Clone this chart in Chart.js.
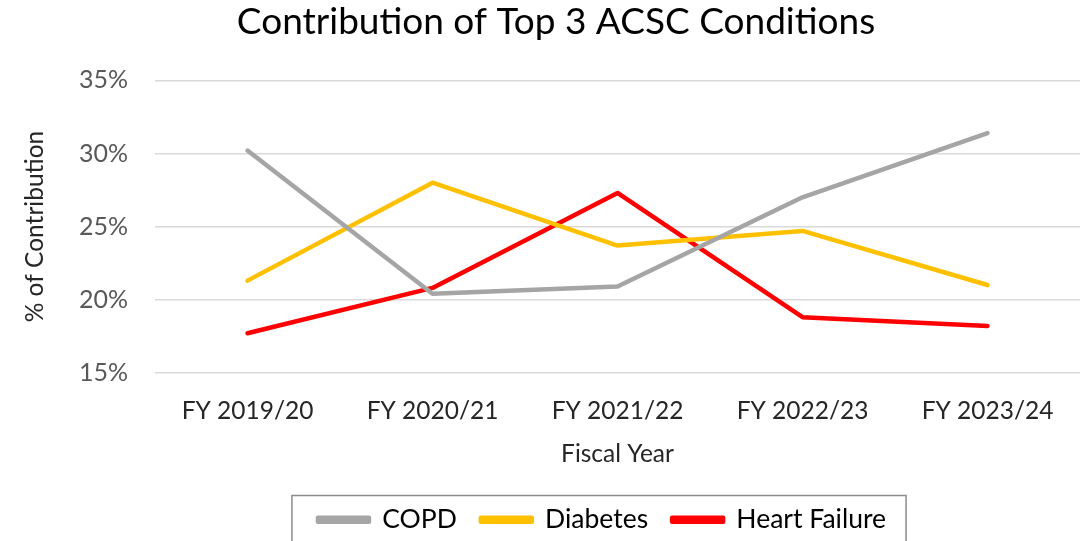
<!DOCTYPE html>
<html>
<head>
    <title>Contribution of Top 3 ACSC Conditions</title>
    <script src="https://cdn.jsdelivr.net/npm/chart.js"></script>
    <style>
        body { margin: 0; background: #fff; }
    </style>
</head>
<body>
<canvas id="acscChart" width="1084" height="541"></canvas>

<script>
    // data
    const fiscalYears = ['FY 2019/20', 'FY 2020/21', 'FY 2021/22', 'FY 2022/23', 'FY 2023/24'];
    const copd = [30.2, 20.4, 20.9, 27.0, 31.4];
    const diabetes = [21.3, 28.0, 23.7, 24.7, 21.0];
    const heartFailure = [17.7, 20.8, 27.3, 18.8, 18.2];
    const yTicks = [15, 20, 25, 30, 35];

    const FONT = 'Lato, "Open Sans", sans-serif';
    const LEGEND_SHIFT = 46; // Excel puts the legend a bit right of centre

    // moves the legend and draws the box round it, like Excel does
    const legendBorder = {
        id: 'legendBorder',
        afterLayout(chart) {
            chart.legend.left += LEGEND_SHIFT;
            chart.legend.right += LEGEND_SHIFT;
        },
        afterDraw(chart) {
            const boxes = chart.legend.legendHitBoxes;
            if (!boxes || !boxes.length) return;
            const left = Math.min(...boxes.map(b => b.left));
            const right = Math.max(...boxes.map(b => b.left + b.width));
            const top = Math.min(...boxes.map(b => b.top));
            const bottom = Math.max(...boxes.map(b => b.top + b.height));
            const ctx = chart.ctx;
            ctx.save();
            ctx.strokeStyle = '#8c8c8c';
            ctx.lineWidth = 1.5;
            ctx.strokeRect(left - 26, top - 11, right - left + 46, bottom - top + 30);
            ctx.restore();
        }
    };

    function lineSet(label, data, color) {
        return {
            label: label,
            data: data,
            borderColor: color,
            backgroundColor: color,
            borderWidth: 4.5,
            pointRadius: 0,
            tension: 0,
            borderCapStyle: 'round',
            borderJoinStyle: 'round'
        };
    }

    const ctx = document.getElementById('acscChart').getContext('2d');
    new Chart(ctx, {
        type: 'line',
        data: {
            labels: fiscalYears,
            datasets: [
                lineSet('COPD', copd, '#A5A5A5'),
                lineSet('Diabetes', diabetes, '#FFC000'),
                lineSet('Heart Failure', heartFailure, '#FF0000')
            ]
        },
        options: {
            responsive: false,
            animation: false,
            layout: { padding: { left: 32, right: 4, top: 0, bottom: -2 } },
            plugins: {
                title: {
                    display: true,
                    text: 'Contribution of Top 3 ACSC Conditions',
                    color: '#000',
                    font: { family: FONT, size: 37, weight: 'normal' },
                    padding: { top: 0, bottom: 36 }
                },
                legend: {
                    position: 'bottom',
                    labels: {
                        color: '#000',
                        font: { family: FONT, size: 26.5 },
                        boxWidth: 51,
                        boxHeight: 4,
                        padding: 24
                    }
                },
                tooltip: { enabled: false }
            },
            scales: {
                x: {
                    offset: true,
                    grid: { display: false, drawTicks: false },
                    border: { display: false },
                    ticks: {
                        color: '#262626',
                        font: { family: FONT, size: 24.5 },
                        padding: 24,
                        maxRotation: 0
                    },
                    title: {
                        display: true,
                        text: 'Fiscal Year',
                        color: '#262626',
                        font: { family: FONT, size: 24.5 },
                        padding: { top: -11, bottom: 14 }
                    }
                },
                y: {
                    min: 15,
                    max: 35,
                    afterBuildTicks(scale) {
                        scale.ticks = yTicks.map(v => ({ value: v }));
                    },
                    afterFit(scale) {
                        scale.width = 123;
                    },
                    grid: { color: '#d9d9d9', lineWidth: 1.5, drawTicks: false },
                    border: { display: false },
                    ticks: {
                        color: '#595959',
                        font: { family: FONT, size: 25 },
                        padding: 27,
                        callback: v => v + '%'
                    },
                    title: {
                        display: true,
                        text: '% of Contribution',
                        color: '#262626',
                        font: { family: FONT, size: 24.5 },
                        padding: { top: -12, bottom: 0 }
                    }
                }
            }
        },
        plugins: [legendBorder]
    });
</script>
</body>
</html>
